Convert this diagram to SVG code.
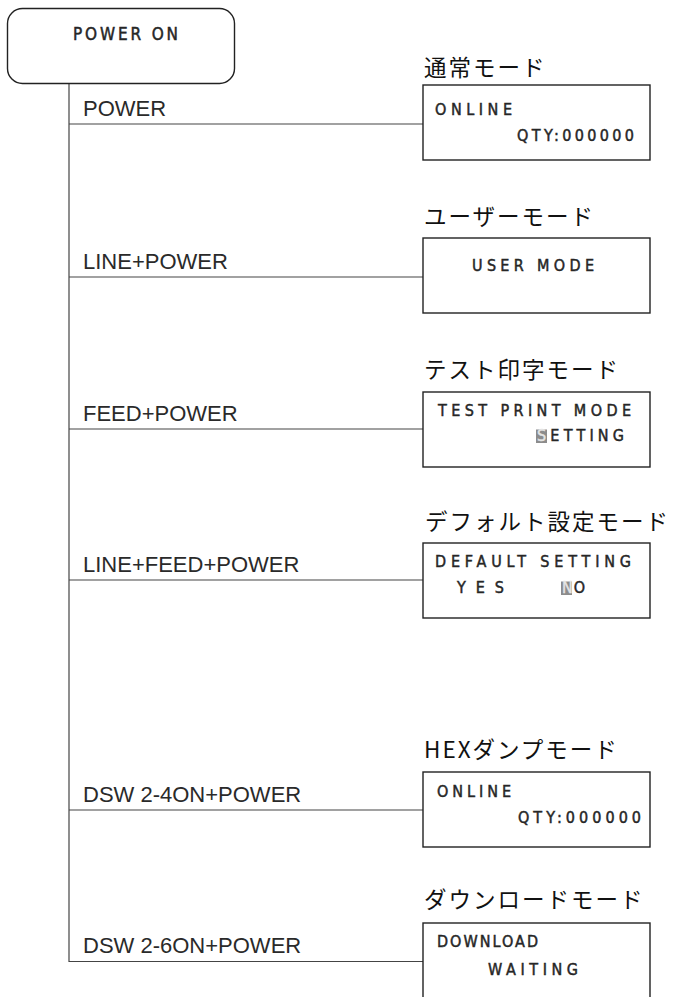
<svg xmlns="http://www.w3.org/2000/svg" width="674" height="997" viewBox="0 0 674 997">
<style>
.bg{fill:#fff}
.box{fill:#fff;stroke:#222;stroke-width:1.4}
.conn{fill:none;stroke:#444;stroke-width:1.2}
.lcd{font-family:"Liberation Sans Narrow","DejaVu Sans Condensed",sans-serif;font-size:16px;fill:#262626;stroke:#262626;stroke-width:0.45}
.big{font-size:17px}
.hl{fill:#8c8c8c}
.hlt{fill:#e4e4e4;stroke:#e4e4e4}
.title{font-family:"Noto Sans CJK JP","Noto Sans",sans-serif;font-size:22.5px;letter-spacing:2px;fill:#111}
.key{font-family:"Liberation Sans",Arial,sans-serif;font-size:22px;fill:#2a2a2a}
</style>
<rect class="bg" x="0" y="0" width="674" height="997"/>
<g id="connectors">
<line class="conn" x1="69" y1="84" x2="69" y2="962"/>
<line class="conn" x1="69" y1="124" x2="423" y2="124"/>
<line class="conn" x1="69" y1="277" x2="423" y2="277"/>
<line class="conn" x1="69" y1="429" x2="423" y2="429"/>
<line class="conn" x1="69" y1="580" x2="423" y2="580"/>
<line class="conn" x1="69" y1="810" x2="423" y2="810"/>
<line class="conn" x1="69" y1="961.5" x2="423" y2="961.5"/>
<text class="key" x="83" y="116">POWER</text>
<text class="key" x="83" y="269">LINE+POWER</text>
<text class="key" x="83" y="421">FEED+POWER</text>
<text class="key" x="83" y="572">LINE+FEED+POWER</text>
<text class="key" x="83" y="802">DSW 2-4ON+POWER</text>
<text class="key" x="83" y="953">DSW 2-6ON+POWER</text>
</g>
<g id="power-on">
<rect class="box" x="7.5" y="8.5" width="227" height="75" rx="15" ry="15"/>
<text class="lcd big" x="73" y="40" textLength="105" lengthAdjust="spacing">POWER ON</text>
</g>
<g id="normal-mode">
<text class="title" x="424" y="76">通常モード</text>
<rect class="box" x="423" y="85" width="227" height="75"/>
<text class="lcd" x="435" y="115" textLength="77" lengthAdjust="spacing">ONLINE</text>
<text class="lcd" x="517" y="141" textLength="117" lengthAdjust="spacing">QTY:000000</text>
</g>
<g id="user-mode">
<text class="title" x="424" y="225">ユーザーモード</text>
<rect class="box" x="423" y="238" width="227" height="75"/>
<text class="lcd" x="472" y="271" textLength="122" lengthAdjust="spacing">USER MODE</text>
</g>
<g id="test-print-mode">
<text class="title" x="424" y="378">テスト印字モード</text>
<rect class="box" x="423" y="392" width="227" height="75"/>
<text class="lcd" x="438" y="416" textLength="193" lengthAdjust="spacing">TEST PRINT MODE</text>
<rect class="hl" x="536" y="429.5" width="11" height="13.5"/>
<text class="lcd" x="537" y="441" textLength="87" lengthAdjust="spacing"><tspan class="hlt">S</tspan>ETTING</text>
</g>
<g id="default-setting-mode">
<text class="title" x="425" y="530">デフォルト設定モード</text>
<rect class="box" x="423" y="543" width="227" height="75"/>
<text class="lcd" x="435" y="567" textLength="196" lengthAdjust="spacing">DEFAULT SETTING</text>
<text class="lcd" x="457" y="593" textLength="47" lengthAdjust="spacing">YES</text>
<rect class="hl" x="561" y="581.5" width="11" height="13.5"/>
<text class="lcd" x="562" y="593" textLength="23" lengthAdjust="spacing"><tspan class="hlt">N</tspan>O</text>
</g>
<g id="hex-dump-mode">
<text class="title" x="424" y="758">HEXダンプモード</text>
<rect class="box" x="423" y="772" width="227" height="75"/>
<text class="lcd" x="437" y="797" textLength="74" lengthAdjust="spacing">ONLINE</text>
<text class="lcd" x="518" y="823" textLength="123" lengthAdjust="spacing">QTY:000000</text>
</g>
<g id="download-mode">
<text class="title" x="424" y="908">ダウンロードモード</text>
<rect class="box" x="423" y="923" width="227" height="80"/>
<text class="lcd" x="437" y="947" textLength="101" lengthAdjust="spacing">DOWNLOAD</text>
<text class="lcd" x="488" y="975" textLength="90" lengthAdjust="spacing">WAITING</text>
</g>
</svg>
